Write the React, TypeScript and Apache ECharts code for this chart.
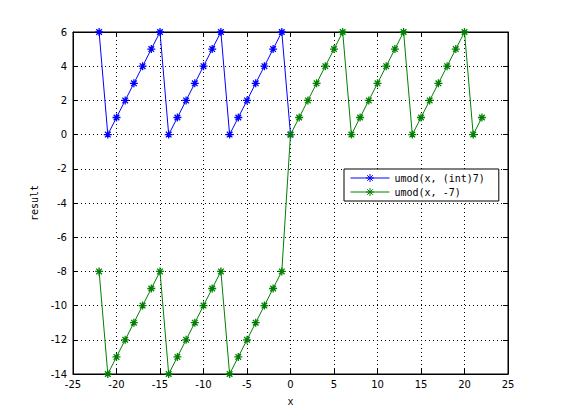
import React, { useEffect, useRef } from "react";
import * as echarts from "echarts";

const blueX = [-22, -21, -20, -19, -18, -17, -16, -15, -14, -13, -12, -11, -10, -9, -8, -7, -6, -5, -4, -3, -2, -1, 0];
const blueY = [6, 0, 1, 2, 3, 4, 5, 6, 0, 1, 2, 3, 4, 5, 6, 0, 1, 2, 3, 4, 5, 6, 0];

const greenX = [-22, -21, -20, -19, -18, -17, -16, -15, -14, -13, -12, -11, -10, -9, -8, -7, -6, -5, -4, -3, -2, -1, 0, 1, 2, 3, 4, 5, 6, 7, 8, 9, 10, 11, 12, 13, 14, 15, 16, 17, 18, 19, 20, 21, 22];
const greenY = [-8, -14, -13, -12, -11, -10, -9, -8, -14, -13, -12, -11, -10, -9, -8, -14, -13, -12, -11, -10, -9, -8, 0, 1, 2, 3, 4, 5, 6, 0, 1, 2, 3, 4, 5, 6, 0, 1, 2, 3, 4, 5, 6, 0, 1];

const seriesNames = ["umod(x, (int)7)", "umod(x, -7)"];
const seriesColors = ["#0000ff", "#008000"];
const xTicks = { min: -25, max: 25, interval: 5 };
const yTicks = { min: -14, max: 6, interval: 2 };

const STAR = "path://M5,0L5,10M0,5L10,5M1.5,1.5L8.5,8.5M1.5,8.5L8.5,1.5";
const LEGEND_ICON =
  "path://M0,5L39,5M19.5,1L19.5,9M15.5,5L23.5,5M16.7,2.2L22.3,7.8M16.7,7.8L22.3,2.2";

export default function App() {
  const ref = useRef<HTMLDivElement>(null);
  useEffect(() => {
    const chart = echarts.init(ref.current!, null, { renderer: "svg" });
    const tickFont = { fontFamily: "DejaVu Sans", fontSize: 10, color: "#000" };
    const splitLine = { show: true, lineStyle: { color: "#000", type: [1, 3] as any, width: 1 } };
    const mk = (name: string, xs: number[], ys: number[], color: string) => ({
      name,
      type: "line",
      data: xs.map((x, i) => [x, ys[i]]),
      symbol: STAR,
      symbolSize: 8,
      showSymbol: true,
      lineStyle: { color, width: 1 },
      itemStyle: { color: "rgba(0,0,0,0)", borderColor: color, borderWidth: 1.3 },
      emphasis: { disabled: true },
    });
    chart.setOption({
      animation: false,
      backgroundColor: "#fff",
      grid: { left: 73, right: 53, top: 32, bottom: 46, show: true, borderColor: "#000", borderWidth: 1, backgroundColor: "transparent" },
      xAxis: [
        {
          type: "value", ...xTicks, position: "bottom",
          name: "x", nameLocation: "middle", nameGap: 22,
          nameTextStyle: { fontFamily: "DejaVu Sans Mono", fontSize: 10, color: "#000" },
          axisLine: { show: true, onZero: false, lineStyle: { color: "#000" } },
          axisTick: { show: true, inside: true, length: 5, lineStyle: { color: "#000" } },
          axisLabel: { ...tickFont, margin: 5 },
          splitLine,
        },
        {
          type: "value", ...xTicks, position: "top",
          axisLine: { show: true, onZero: false, lineStyle: { color: "#000" } },
          axisTick: { show: true, inside: true, length: 5, lineStyle: { color: "#000" } },
          axisLabel: { show: false },
          splitLine: { show: false },
        },
      ],
      yAxis: [
        {
          type: "value", ...yTicks, position: "left",
          name: "result", nameLocation: "middle", nameGap: 27, nameRotate: 90,
          nameTextStyle: { fontFamily: "DejaVu Sans Mono", fontSize: 10, color: "#000" },
          axisLine: { show: true, onZero: false, lineStyle: { color: "#000" } },
          axisTick: { show: true, inside: true, length: 5, lineStyle: { color: "#000" } },
          axisLabel: { ...tickFont, margin: 6 },
          splitLine,
        },
        {
          type: "value", ...yTicks, position: "right",
          axisLine: { show: true, onZero: false, lineStyle: { color: "#000" } },
          axisTick: { show: true, inside: true, length: 5, lineStyle: { color: "#000" } },
          axisLabel: { show: false },
          splitLine: { show: false },
        },
      ],
      legend: {
        orient: "vertical",
        left: 344,
        top: 169,
        backgroundColor: "#fff",
        borderColor: "#000",
        borderWidth: 1,
        borderRadius: 0,
        padding: [4, 14, 4, 6],
        itemGap: 4,
        itemWidth: 39,
        itemHeight: 8,
        textStyle: { fontFamily: "DejaVu Sans Mono", fontSize: 10, color: "#000" },
        data: seriesNames.map((n, i) => ({
          name: n,
          icon: LEGEND_ICON,
          itemStyle: { color: "rgba(0,0,0,0)", borderColor: seriesColors[i], borderWidth: 1 },
        })),
      },
      series: [
        mk(seriesNames[0], blueX, blueY, seriesColors[0]),
        mk(seriesNames[1], greenX, greenY, seriesColors[1]),
      ],
    });
    return () => chart.dispose();
  }, []);
  return <div ref={ref} style={{ width: 561, height: 420, position: "absolute", left: 0, top: 0 }} />;
}
